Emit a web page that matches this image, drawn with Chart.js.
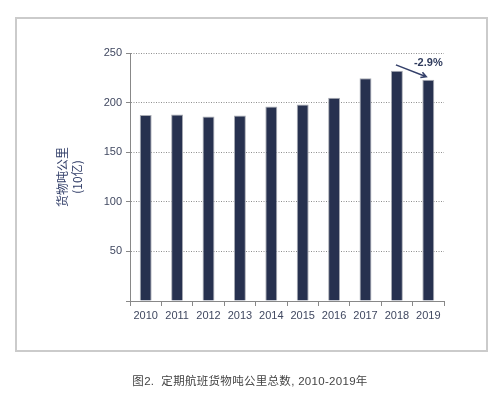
<!DOCTYPE html>
<html>
<head>
<meta charset="utf-8">
<script src="https://cdn.jsdelivr.net/npm/chart.js@4/dist/chart.umd.min.js"></script>
<style>
  html, body { margin: 0; padding: 0; background: #fff; }
  #wrap { position: relative; width: 500px; height: 399px; }
  #frame {
    position: absolute; left: 15px; top: 17px; width: 469px; height: 331px;
    border: 2px solid #cbcbcb;
  }
  #cadre { position: absolute; left: 0; top: 0; }
  #caption {
    position: absolute; left: 0; top: 372px; width: 500px; text-align: center;
    font: 11.5px "Liberation Sans", "Noto Sans CJK SC", sans-serif; color: #444;
    letter-spacing: 0.3px;
  }
</style>
</head>
<body>
<div id="wrap">
  <div id="frame"></div>
  <canvas id="cadre" width="500" height="399"></canvas>
  <div id="caption">图2.&nbsp; 定期航班货物吨公里总数, 2010-2019年</div>
</div>
<script>
const years = ["2010", "2011", "2012", "2013", "2014", "2015", "2016", "2017", "2018", "2019"];
const cargoTkm = [187.5, 188, 186, 187, 196, 198, 205, 224.5, 232, 223];
const yTicks = [0, 50, 100, 150, 200, 250];
const changeLabel = "-2.9%";

const fontFamily = '"Liberation Sans", "Noto Sans CJK SC", sans-serif';

// arrow + percentage between the last two bars
const arrowPlugin = {
  id: "arrowNote",
  afterDatasetsDraw(chart) {
    const meta = chart.getDatasetMeta(0);
    const a = meta.data[8];
    const b = meta.data[9];
    const ctx = chart.ctx;
    const x1 = a.x - 1, y1 = a.y - 6;
    const x2 = b.x - 2, y2 = b.y - 3;
    ctx.save();
    ctx.strokeStyle = "#34406a";
    ctx.lineWidth = 1.5;
    ctx.beginPath();
    ctx.moveTo(x1, y1);
    ctx.lineTo(x2, y2);
    const ang = Math.atan2(y2 - y1, x2 - x1);
    const len = 6;
    ctx.moveTo(x2 - len * Math.cos(ang - 0.5), y2 - len * Math.sin(ang - 0.5));
    ctx.lineTo(x2, y2);
    ctx.lineTo(x2 - len * Math.cos(ang + 0.5), y2 - len * Math.sin(ang + 0.5));
    ctx.stroke();
    ctx.fillStyle = "#2e3a5c";
    ctx.font = "bold 11px " + fontFamily;
    ctx.textAlign = "center";
    ctx.textBaseline = "middle";
    ctx.fillText(changeLabel, b.x, a.y - 8);
    ctx.restore();
  }
};

const ctx = document.getElementById("cadre").getContext("2d");

new Chart(ctx, {
  type: "bar",
  data: {
    labels: years,
    datasets: [{
      data: cargoTkm,
      backgroundColor: "#27314f",
      borderColor: "#a9acb4",
      borderWidth: 1,
      barPercentage: 0.38,
      categoryPercentage: 1
    }]
  },
  options: {
    responsive: false,
    animation: false,
    layout: { padding: { left: 0, right: 56, top: 53, bottom: 68 } },
    plugins: { legend: { display: false }, tooltip: { enabled: false } },
    scales: {
      x: {
        afterFit(scale) { scale.height = 30; },
        grid: {
          offset: true,
          drawOnChartArea: false,
          tickLength: 5,
          tickColor: "#888"
        },
        border: { color: "#888", width: 1 },
        ticks: {
          color: "#404860",
          padding: 3,
          font: { family: fontFamily, size: 11 },
          maxRotation: 0
        }
      },
      y: {
        min: 0,
        max: 250,
        afterFit(scale) { scale.width = 130; },
        afterBuildTicks(scale) {
          scale.ticks = yTicks.map(v => ({ value: v }));
        },
        grid: {
          color: "#8f8f8f",
          tickLength: 4,
          tickColor: "#888",
          tickBorderDash: []
        },
        border: { color: "#888", width: 1, dash: [1, 1.5] },
        ticks: {
          color: "#404860",
          padding: 4,
          font: { family: fontFamily, size: 11 },
          callback: v => (v === 0 ? "" : v)
        },
        title: {
          display: true,
          text: ["货物吨公里", "(10亿)"],
          color: "#34406a",
          font: { family: '"Noto Sans CJK SC", sans-serif', size: 12, lineHeight: 1.25 },
          padding: { top: 55, bottom: 0 }
        }
      }
    }
  },
  plugins: [arrowPlugin]
});
</script>
</body>
</html>
